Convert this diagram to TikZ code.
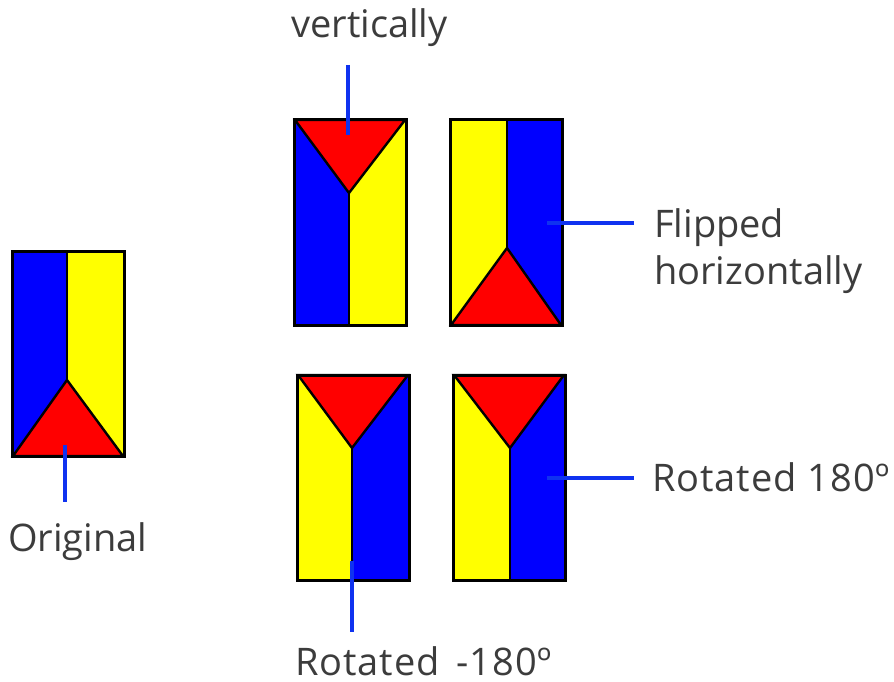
\documentclass[tikz,border=0pt]{standalone}
\usepackage{fontspec}
\setmainfont{Open Sans}
\definecolor{lead}{RGB}{15,50,240}
\definecolor{pblue}{RGB}{0,0,255}
\definecolor{pyellow}{RGB}{255,255,0}
\definecolor{pred}{RGB}{255,0,0}
\definecolor{ink}{RGB}{60,60,60}
\tikzset{
  edgeline/.style={draw=black,line width=2.4pt,line join=miter},
  frameline/.style={draw=black,line width=3pt,line join=miter},
  leadline/.style={draw=lead,line width=4pt},
  lab/.style={text=ink,font=\fontsize{38pt}{44pt}\selectfont,inner sep=0pt,anchor=base west,align=left},
  widelab/.style={lab,font=\fontsize{38pt}{44pt}\selectfont\addfontfeature{LetterSpace=2.5}},
}
% #1 name, #2 left x, #3 top y, #4 left colour, #5 right colour, #6 junction x, #7 junction y, #8 y of the triangle's base, #9 y of the far end of the divider
\newcommand{\flagpanel}[9]{%
  \coordinate (#1nw) at (#2,#3);
  \coordinate (#1se) at (#2+112,#3+205);
  \coordinate (#1j) at (#6,#7);
  \coordinate (#1bl) at (#2+1,#8);
  \coordinate (#1br) at (#2+111,#8);
  \coordinate (#1d) at (#6,#9);
  \fill[#4] (#1nw) rectangle (#6,#3+205);
  \fill[#5] (#6,#3) rectangle (#1se);
  \fill[pred,edgeline] (#1bl) -- (#1j) -- (#1br) -- cycle;
  \draw[edgeline] (#1j) -- (#1d);
  \draw[frameline] (#1nw) rectangle (#1se);
}
\begin{document}
\begin{tikzpicture}[x=1pt,y=-1pt]
\useasboundingbox (0,0) rectangle (894,682);
\flagpanel{orig}{12}{251}{pblue}{pyellow}{67}{380}{456}{251}
\flagpanel{fv}{294}{120}{pblue}{pyellow}{349}{193}{120}{325}
\flagpanel{fh}{450}{120}{pyellow}{pblue}{507}{248}{325}{120}
\flagpanel{rm}{297}{375}{pyellow}{pblue}{352}{448}{375}{580}
\flagpanel{rp}{453}{375}{pyellow}{pblue}{510}{448}{375}{580}

\node[lab] (tv) at (291,38) {vertically};
\node[lab] (tfh) at (654,237) {Flipped};
\node[lab] (tfh2) at (654,284) {horizontally};
\node[widelab] (tr) at (652,491) {Rotated 180º};
\node[lab] (to) at (8,551) {Original};
\node[widelab] (trm) at (295,675) {Rotated\hspace{6pt} -180º};

\coordinate (a1) at (348,65);  \coordinate (a2) at (348,135);
\coordinate (b1) at (547,223); \coordinate (b2) at (634,223);
\coordinate (c1) at (65,445);  \coordinate (c2) at (65,502);
\coordinate (d1) at (352,561); \coordinate (d2) at (352,632);
\coordinate (e1) at (547,478); \coordinate (e2) at (634,478);
\draw[leadline] (a1) -- (a2);
\draw[leadline] (b1) -- (b2);
\draw[leadline] (c1) -- (c2);
\draw[leadline] (d1) -- (d2);
\draw[leadline] (e1) -- (e2);
\end{tikzpicture}
\end{document}
